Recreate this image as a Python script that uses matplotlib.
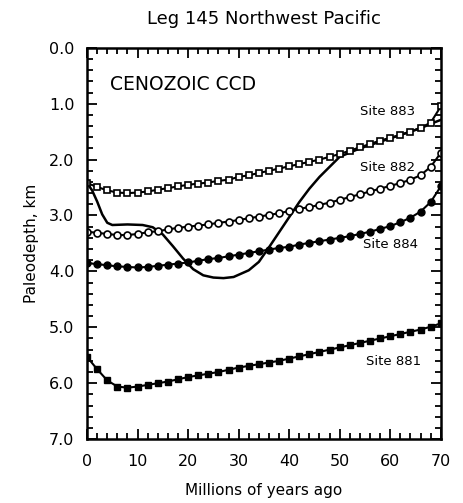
import numpy as np
import matplotlib
matplotlib.use("Agg")
import matplotlib.pyplot as plt
from matplotlib.ticker import MultipleLocator, FormatStrFormatter

# ages (Ma) at which the site points are plotted
ages = list(range(0, 72, 2))

site_883 = [2.42, 2.49, 2.55, 2.59, 2.60, 2.59, 2.57, 2.54, 2.51, 2.48,
            2.45, 2.43, 2.41, 2.38, 2.36, 2.31, 2.28, 2.24, 2.20, 2.16,
            2.12, 2.08, 2.04, 2.00, 1.95, 1.90, 1.84, 1.78, 1.72, 1.66,
            1.61, 1.56, 1.50, 1.43, 1.34, 1.05]
site_882 = [3.29, 3.31, 3.33, 3.35, 3.35, 3.33, 3.30, 3.28, 3.25, 3.22,
            3.20, 3.18, 3.16, 3.13, 3.11, 3.08, 3.05, 3.02, 2.99, 2.96,
            2.92, 2.88, 2.85, 2.81, 2.77, 2.72, 2.67, 2.62, 2.57, 2.52,
            2.47, 2.42, 2.36, 2.28, 2.13, 1.88]
site_884 = [3.85, 3.87, 3.89, 3.91, 3.92, 3.93, 3.92, 3.90, 3.88, 3.86,
            3.84, 3.81, 3.78, 3.76, 3.73, 3.70, 3.67, 3.64, 3.61, 3.58,
            3.56, 3.52, 3.49, 3.46, 3.43, 3.40, 3.37, 3.33, 3.29, 3.24,
            3.19, 3.12, 3.04, 2.93, 2.76, 2.48]
site_881 = [5.53, 5.75, 5.95, 6.06, 6.08, 6.06, 6.03, 6.00, 5.97, 5.93,
            5.89, 5.86, 5.83, 5.80, 5.76, 5.72, 5.69, 5.66, 5.63, 5.60,
            5.56, 5.52, 5.48, 5.44, 5.40, 5.36, 5.32, 5.28, 5.24, 5.20,
            5.16, 5.12, 5.08, 5.04, 4.99, 4.93]

# CCD curve
ccd_age = [0, 1, 2, 3, 4, 5, 8, 11, 13, 15, 17, 19, 21, 23, 25, 27, 29,
           32, 34, 36, 38, 40, 42, 44, 46, 48, 50, 54, 58, 62, 66, 68, 70]
ccd_depth = [2.42, 2.55, 2.75, 2.98, 3.13, 3.17, 3.16, 3.17, 3.21, 3.34,
             3.55, 3.77, 3.96, 4.07, 4.11, 4.12, 4.10, 3.98, 3.83, 3.57,
             3.30, 3.03, 2.76, 2.52, 2.31, 2.13, 1.95, 1.80, 1.68, 1.56,
             1.44, 1.36, 1.29]

site_labels = ["Site 883", "Site 882", "Site 884", "Site 881"]
label_pos = [(59.5, 1.14), (59.5, 2.15), (60, 3.52), (60.7, 5.62)]

plt.rcParams["font.family"] = ["DejaVu Sans"]

fig = plt.figure(figsize=(4.63, 5.03), dpi=100)
ax = fig.add_axes([0.188, 0.127, 0.764, 0.778])

ax.plot(ccd_age, ccd_depth, color="black", lw=1.8)
ax.plot(ages, site_883, color="black", lw=1.5, marker="s", ms=4.5,
        mfc="white", mec="black", mew=1.2)
ax.plot(ages, site_882, color="black", lw=1.5, marker="o", ms=5,
        mfc="white", mec="black", mew=1.2)
ax.plot(ages, site_884, color="black", lw=1.5, marker="o", ms=5,
        mfc="black", mec="black")
ax.plot(ages, site_881, color="black", lw=1.5, marker="s", ms=5,
        mfc="black", mec="black")

for txt, (x, y) in zip(site_labels, label_pos):
    ax.text(x, y, txt, fontsize=9.5, ha="center", va="center")

ax.text(4.5, 0.66, "CENOZOIC CCD", fontsize=13.5, ha="left", va="center")

ax.set_xlim(0, 70)
ax.set_ylim(7.0, 0.0)
ax.xaxis.set_major_locator(MultipleLocator(10))
ax.xaxis.set_minor_locator(MultipleLocator(2))
ax.yaxis.set_major_locator(MultipleLocator(1))
ax.yaxis.set_minor_locator(MultipleLocator(0.2))
ax.yaxis.set_major_formatter(FormatStrFormatter("%.1f"))
ax.tick_params(which="both", direction="in", top=True, right=True,
               width=1.3, labelsize=11.5)
ax.tick_params(which="major", length=7)
ax.tick_params(which="minor", length=4)
ax.tick_params(axis="x", which="major", pad=11)
ax.tick_params(axis="y", which="major", pad=9)
for s in ax.spines.values():
    s.set_linewidth(1.8)

ax.set_xlabel("Millions of years ago", fontsize=11, labelpad=10)
ax.set_ylabel("Paleodepth, km", fontsize=11, labelpad=7)
ax.set_title("Leg 145 Northwest Pacific", fontsize=13, pad=17)

fig.savefig("out.png", dpi=100)
